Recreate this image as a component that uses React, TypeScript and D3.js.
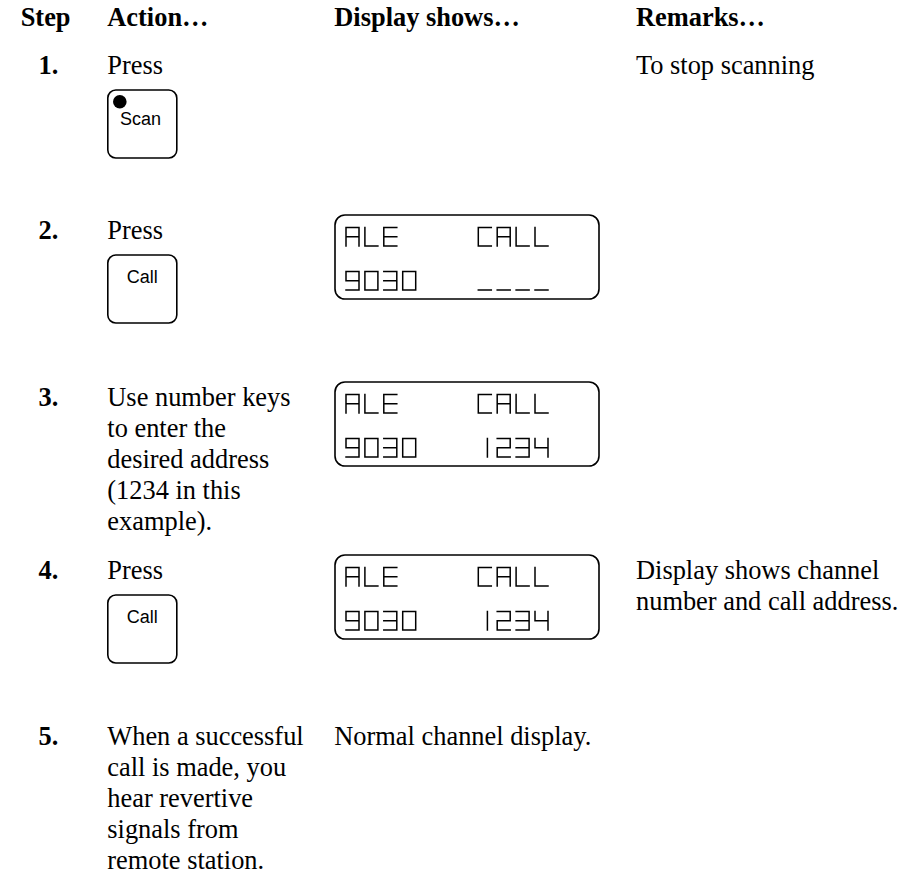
import React, { useEffect, useRef } from 'react';
import * as d3 from 'd3';

// table content
const headers = ['Step', 'Action…', 'Display shows…', 'Remarks…'];
const stepNumbers = ['1.', '2.', '3.', '4.', '5.'];
const actionTexts = [
    ['Press'],
    ['Press'],
    ['Use number keys', 'to enter the', 'desired address', '(1234 in this', 'example).'],
    ['Press'],
    ['When a successful', 'call is made, you', 'hear revertive', 'signals from', 'remote station.'],
];
const keyLabels = ['Scan', 'Call', '', 'Call', ''];
const keyHasLed = [true, false, false, false, false];
const lcdTopRow = ['', 'ALE    CALL', 'ALE    CALL', 'ALE    CALL', ''];
const lcdBottomRow = ['', '9030   ____', '9030   1234', '9030   1234', ''];
const displayTexts = [[], [], [], [], ['Normal channel display.']];
const remarks = [['To stop scanning'], [], [], ['Display shows channel', 'number and call address.'], []];

// 7-segment style glyphs for the LCD
const segments = {
    a: [[0, 0], [1, 0]],
    b: [[1, 0], [1, 0.5]],
    c: [[1, 0.5], [1, 1]],
    d: [[0, 1], [1, 1]],
    e: [[0, 0.5], [0, 1]],
    f: [[0, 0], [0, 0.5]],
    g: [[0, 0.5], [1, 0.5]],
    i: [[0.7, 0], [0.7, 1]],
};
const glyphs = {
    A: 'abcefg', L: 'def', E: 'adefg', C: 'adef',
    '0': 'abcdef', '1': 'i', '2': 'abdeg', '3': 'abcdg', '4': 'bcfg', '9': 'abcdfg', _: 'd',
};

const App = () => {
    const ref = useRef();

    const width = 923;
    const height = 875;
    const serif = "'Liberation Serif', 'Times New Roman', serif";
    const sans = "'Liberation Sans', Arial, sans-serif";
    const fontSize = 26.4;
    const lineSpace = 31;

    // layout
    const header_y = 26;
    const col_x = [20.7, 107.3, 334.3, 636];
    const step_x = 38.5;
    const row_y = [74, 239, 406, 579, 745];

    const key_w = 69;
    const key_h = 68;
    const key_dy = 16;

    const lcd_x = 335;
    const lcd_w = 264;
    const lcd_h = 84;
    const lcd_dy = -24;
    const char_x0 = 11;
    const char_pitch = 18.9;
    const char_w = 13;
    const char_h = 18.5;
    const row_dys = [12.5, 56.5];

    useEffect(() => {
        const svg = d3.select(ref.current);
        svg.selectAll('*').remove();
        svg.attr('width', width).attr('height', height);

        svg.append('rect').attr('width', width).attr('height', height).attr('fill', '#ffffff');

        // headers
        svg.selectAll('.header')
            .data(headers)
            .enter().append('text')
            .attr('class', 'header')
            .attr('x', (d, i) => col_x[i])
            .attr('y', header_y)
            .style('font-family', serif)
            .style('font-size', `${fontSize}px`)
            .style('font-weight', 'bold')
            .attr('fill', '#000')
            .text(d => d);

        const rows = svg.selectAll('.row')
            .data(stepNumbers.map((s, i) => i))
            .enter().append('g')
            .attr('class', 'row')
            .attr('transform', i => `translate(0,${row_y[i]})`);

        // step numbers
        rows.append('text')
            .attr('x', step_x)
            .attr('y', 0)
            .style('font-family', serif)
            .style('font-size', `${fontSize}px`)
            .style('font-weight', 'bold')
            .attr('fill', '#000')
            .text(i => stepNumbers[i]);

        // multi-line text columns
        const addLines = (lines, x) => {
            rows.each(function (i) {
                d3.select(this).selectAll(null)
                    .data(lines[i])
                    .enter().append('text')
                    .attr('x', x)
                    .attr('y', (d, k) => k * lineSpace)
                    .style('font-family', serif)
                    .style('font-size', `${fontSize}px`)
                    .attr('fill', '#000')
                    .text(d => d);
            });
        };
        addLines(actionTexts, col_x[1]);
        addLines(displayTexts, col_x[2]);
        addLines(remarks, col_x[3]);

        // keys
        const keys = rows.filter(i => keyLabels[i] !== '')
            .append('g')
            .attr('transform', `translate(${col_x[1]},${key_dy})`);

        keys.append('rect')
            .attr('x', 0.5)
            .attr('y', 0)
            .attr('width', key_w)
            .attr('height', key_h)
            .attr('rx', 8)
            .attr('fill', 'none')
            .attr('stroke', '#000')
            .attr('stroke-width', 1.6);

        keys.filter(i => keyHasLed[i])
            .append('circle')
            .attr('cx', 12.5)
            .attr('cy', 11.8)
            .attr('r', 6.8)
            .attr('fill', '#000');

        keys.append('text')
            .attr('x', i => keyHasLed[i] ? 12.7 : key_w / 2 + 0.5)
            .attr('y', i => keyHasLed[i] ? 35.3 : 27.5)
            .attr('text-anchor', i => keyHasLed[i] ? 'start' : 'middle')
            .style('font-family', sans)
            .style('font-size', '18px')
            .attr('fill', '#000')
            .text(i => keyLabels[i]);

        // lcd displays
        const xChar = d3.scaleLinear().domain([0, 1]).range([char_x0, char_x0 + char_pitch]);
        const xSeg = d3.scaleLinear().domain([0, 1]).range([0, char_w]);
        const ySeg = d3.scaleLinear().domain([0, 1]).range([0, char_h]);
        const segLine = d3.line().x(p => xSeg(p[0])).y(p => ySeg(p[1]));

        const lcds = rows.filter(i => lcdTopRow[i] !== '')
            .append('g')
            .attr('transform', `translate(${lcd_x},${lcd_dy})`);

        lcds.append('rect')
            .attr('x', 0)
            .attr('y', 0)
            .attr('width', lcd_w)
            .attr('height', lcd_h)
            .attr('rx', 10)
            .attr('fill', 'none')
            .attr('stroke', '#000')
            .attr('stroke-width', 1.6);

        lcds.each(function (i) {
            const g = d3.select(this);
            [lcdTopRow[i], lcdBottomRow[i]].forEach((str, r) => {
                const chars = str.split('').map((c, k) => ({ c, k })).filter(d => glyphs[d.c]);
                g.selectAll(null)
                    .data(chars)
                    .enter().append('path')
                    .attr('transform', d => `translate(${xChar(d.k)},${row_dys[r]})`)
                    .attr('d', d => glyphs[d.c].split('').map(s => segLine(segments[s])).join(''))
                    .attr('fill', 'none')
                    .attr('stroke', '#000')
                    .attr('stroke-width', 1.5)
                    .attr('stroke-linecap', 'square');
            });
        });
    }, []);

    return <svg ref={ref} style={{ position: 'absolute', left: 0, top: 0, display: 'block' }}></svg>;
};

export default App;
